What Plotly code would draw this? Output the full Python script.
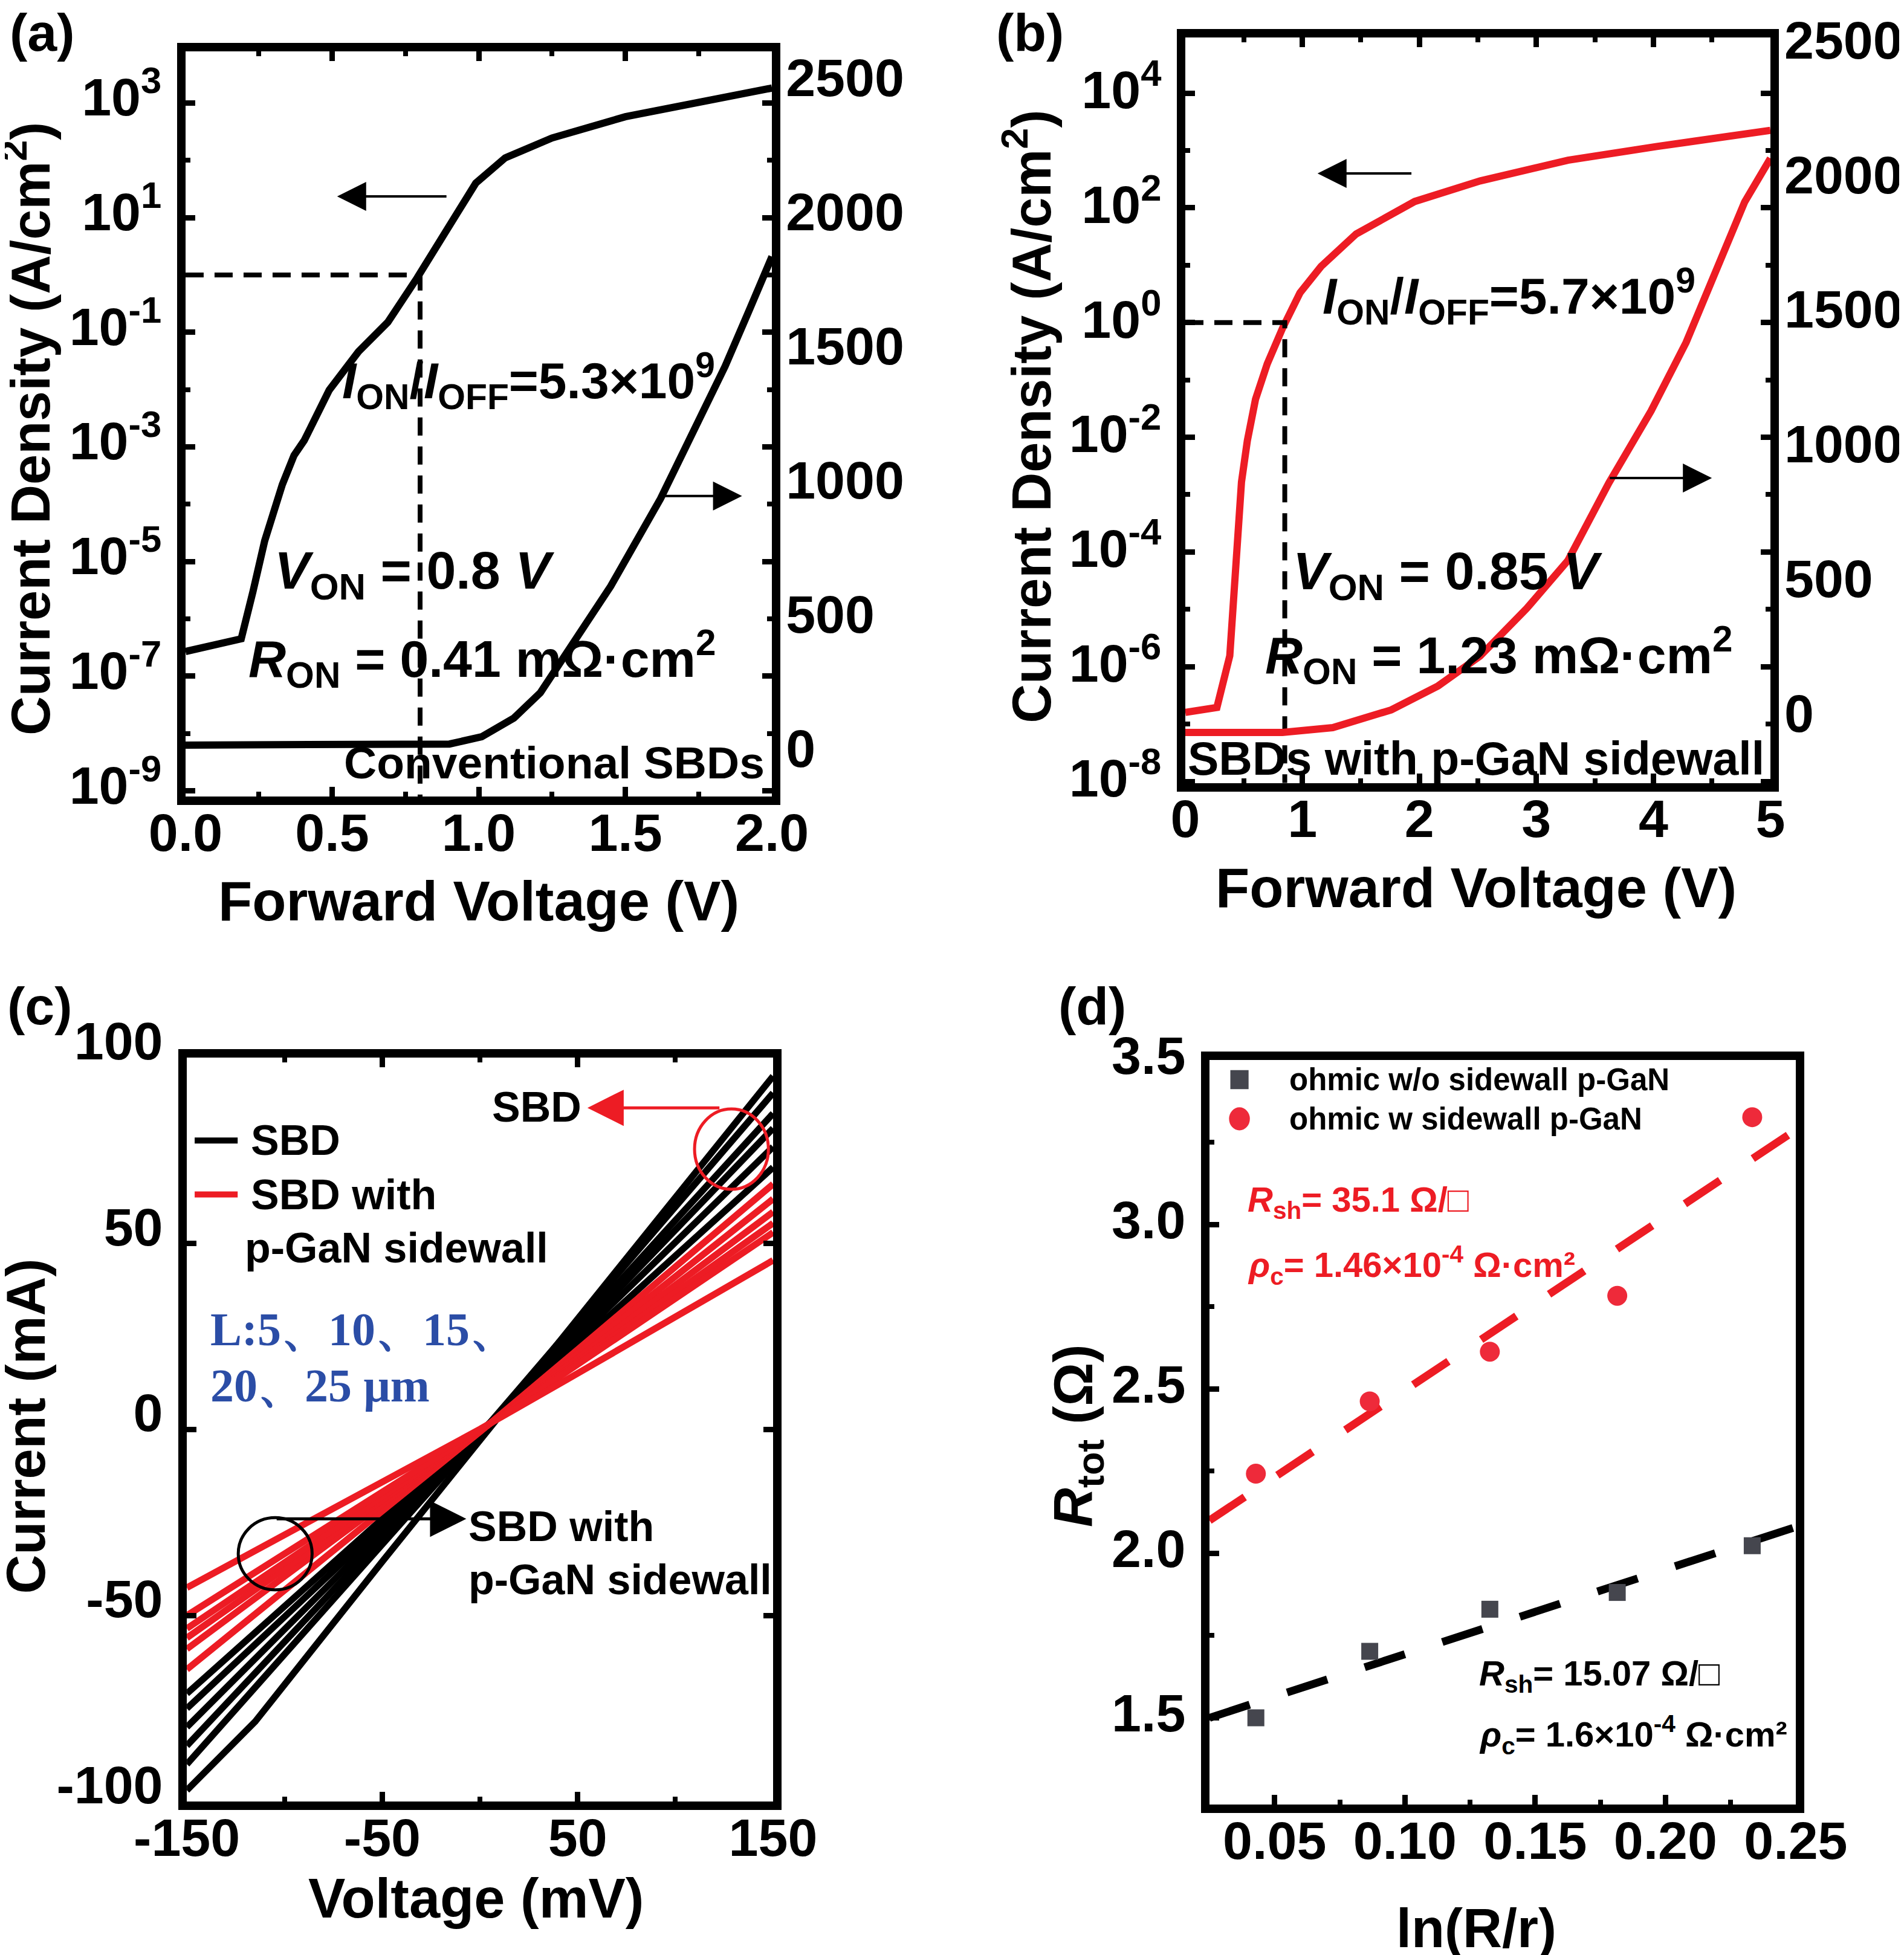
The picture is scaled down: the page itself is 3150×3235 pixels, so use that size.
import plotly.graph_objects as go

FONT = "Liberation Sans, Arial, sans-serif"
SERIF = "Liberation Serif, Times New Roman, serif"
RED = "#ED1C24"
W, H = 3150, 3235

# ---- panel (a): conventional SBDs ----
v_a_log = [0.00, 0.19, 0.23, 0.27, 0.33, 0.37, 0.405, 0.49, 0.59, 0.69, 0.79, 0.90, 0.99, 1.09, 1.25, 1.50, 1.75, 2.00]
j_a = [2.7e-7, 4.5e-7, 3.0e-6, 2.3e-5, 2.2e-4, 7.1e-4, 1.3e-3, 9.8e-3, 4.6e-2, 0.15, 0.89, 6.8, 40, 110, 245, 575, 1050, 1820]
v_a_lin = [0.0, 0.73, 0.90, 1.01, 1.12, 1.21, 1.32, 1.45, 1.62, 1.75, 1.84, 1.92, 2.0]
i_a_lin = [30, 30, 34, 61, 131, 225, 403, 622, 948, 1236, 1441, 1644, 1850]
von_a = 0.8

# ---- panel (b): SBDs with p-GaN sidewall ----
v_b_log = [0.0, 0.27, 0.38, 0.41, 0.44, 0.48, 0.53, 0.60, 0.70, 0.83, 0.98, 1.16, 1.46, 1.96, 2.52, 3.27, 4.03, 5.0]
j_b = [1.6e-7, 1.95e-7, 1.55e-6, 1.45e-5, 1.55e-4, 1.66e-3, 8.7e-3, 4.6e-2, 0.19, 0.79, 3.3, 9.5, 35, 129, 295, 676, 1175, 2240]
v_b_lin = [0.0, 0.83, 1.26, 1.76, 2.16, 2.52, 2.92, 3.27, 3.62, 3.98, 4.28, 4.58, 4.78, 5.0]
i_b_lin = [-72, -72, -54, 12, 101, 212, 390, 567, 855, 1122, 1377, 1698, 1898, 2060]
von_b = 0.85
j_ref = 1.0

# ---- panel (c): TLM I-V ----
v_c = [-150, -115, -50, 0, 50, 100, 150]
sbd_lines = [
    [-97, -78.5, -35.5, -2.7, 30.0, 62.5, 95.0],
    [-90, -69.3, -30.8, -1.3, 29.3, 59.9, 90.5],
    [-85, -65.4, -29.1, -1.2, 27.5, 56.3, 85.0],
    [-80, -61.6, -27.4, -1.1, 26.3, 53.7, 81.0],
    [-75, -57.7, -25.6, -1.0, 24.7, 50.4, 76.0],
    [-71, -54.6, -24.2, -0.9, 22.9, 46.7, 70.5],
]
pgan_lines = [
    [-64.5, -49.6, -21.9, -0.6, 21.5, 43.8, 66.0],
    [-59.0, -45.3, -19.9, -0.5, 20.3, 41.1, 62.0],
    [-56.0, -43.0, -18.9, -0.4, 19.2, 38.8, 58.5],
    [-53.5, -41.1, -18.0, -0.3, 18.2, 36.8, 55.5],
    [-50.0, -38.4, -16.8, -0.2, 17.5, 35.2, 53.0],
    [-42.5, -32.6, -14.1, 0.1, 15.1, 30.3, 45.5],
]

# ---- panel (d): CTLM ----
ln_rr = [0.0428, 0.0865, 0.1326, 0.1815, 0.2333]
r_wo = [1.500, 1.702, 1.830, 1.881, 2.023]
r_w = [2.242, 2.462, 2.613, 2.783, 3.326]
fit_x = [0.025, 0.25]
fit_wo = [1.500, 2.080]
fit_w = [2.100, 3.287]


def frame(**kw):
    ax = dict(showline=True, linewidth=14, linecolor="black", mirror="ticks", automargin=False,
              ticks="inside", ticklen=16, tickwidth=9, tickcolor="black",
              showgrid=False, zeroline=False, ticklabelstandoff=8,
              tickfont=dict(family=FONT, size=88, color="black", weight="bold"))
    ax.update(kw)
    return ax


def right_axis(**kw):
    ax = dict(side="right", showgrid=False, zeroline=False, showline=False, ticks="", automargin=False,
              ticklabelstandoff=22, ticklabelshift=-8, tickvals=[0, 500, 1000, 1500, 2000, 2500],
              tickfont=dict(family=FONT, size=88, color="black", weight="bold"))
    ax.update(kw)
    return ax


def minor(vals):
    return dict(tickvals=vals, ticks="inside", ticklen=8, tickwidth=8, tickcolor="black")


def sup(n):
    return f"10<sup>{n}</sup>"


fig = go.Figure()

# (a)
fig.add_trace(go.Scatter(x=v_a_log, y=j_a, mode="lines", line=dict(color="black", width=12),
                         xaxis="x", yaxis="y", showlegend=False))
fig.add_trace(go.Scatter(x=v_a_lin, y=i_a_lin, mode="lines", line=dict(color="black", width=12),
                         xaxis="x", yaxis="y2", showlegend=False))
fig.add_trace(go.Scatter(x=[0, von_a, von_a], y=[j_ref, j_ref, 10 ** -9.1], mode="lines",
                         line=dict(color="black", width=8, dash="30px,18px"),
                         xaxis="x", yaxis="y", showlegend=False))

# (b)
fig.add_trace(go.Scatter(x=v_b_log, y=j_b, mode="lines", line=dict(color=RED, width=12),
                         xaxis="x2", yaxis="y3", showlegend=False))
fig.add_trace(go.Scatter(x=v_b_lin, y=i_b_lin, mode="lines", line=dict(color=RED, width=12),
                         xaxis="x2", yaxis="y4", showlegend=False))
fig.add_trace(go.Scatter(x=[0, von_b, von_b], y=[j_ref, j_ref, 10 ** -8.03], mode="lines",
                         line=dict(color="black", width=8, dash="30px,18px"),
                         xaxis="x2", yaxis="y3", showlegend=False))

# (c)
for ys in sbd_lines:
    fig.add_trace(go.Scatter(x=v_c, y=ys, mode="lines", line=dict(color="black", width=11),
                             xaxis="x3", yaxis="y5", showlegend=False))
for ys in pgan_lines:
    fig.add_trace(go.Scatter(x=v_c, y=ys, mode="lines", line=dict(color=RED, width=11),
                             xaxis="x3", yaxis="y5", showlegend=False))

# (d)
fig.add_trace(go.Scatter(x=fit_x, y=fit_wo, mode="lines", line=dict(color="black", width=13, dash="70px,65px"),
                         xaxis="x4", yaxis="y6", showlegend=False))
fig.add_trace(go.Scatter(x=fit_x, y=fit_w, mode="lines", line=dict(color=RED, width=13, dash="70px,65px"),
                         xaxis="x4", yaxis="y6", showlegend=False))
fig.add_trace(go.Scatter(x=ln_rr, y=r_wo, mode="markers", marker=dict(symbol="square", size=28, color="#45464E"),
                         xaxis="x4", yaxis="y6", showlegend=False))
fig.add_trace(go.Scatter(x=ln_rr, y=r_w, mode="markers", marker=dict(symbol="circle", size=33, color="#EE2A3A"),
                         xaxis="x4", yaxis="y6", showlegend=False))

fig.update_layout(
    template="none",
    width=W, height=H, margin=dict(l=0, r=0, t=0, b=0, autoexpand=False),
    paper_bgcolor="white", plot_bgcolor="white",
    font=dict(family=FONT, color="black", weight="bold"),
    xaxis=frame(domain=[0.0949, 0.4029], anchor="y", range=[0, 2], ticklabelstandoff=-30,
                tickvals=[0, 0.5, 1, 1.5, 2], ticktext=["0.0", "0.5", "1.0", "1.5", "2.0"],
                minor=minor([0.25, 0.75, 1.25, 1.75])),
    yaxis=frame(domain=[0.5950, 0.9762], anchor="x", type="log", range=[-9.1, 3.9], ticklabelshift=-10,
                tickvals=[1e3, 1e1, 1e-1, 1e-3, 1e-5, 1e-7, 1e-9],
                ticktext=[sup(3), sup(1), sup(-1), sup(-3), sup(-5), sup(-7), sup(-9)],
                minor=minor([1e2, 1e0, 1e-2, 1e-4, 1e-6, 1e-8])),
    yaxis2=right_axis(overlaying="y", anchor="x", range=[-162, 2615]),
    xaxis2=frame(domain=[0.6200, 0.9273], anchor="y3", range=[0, 5], ticklabelstandoff=-30,
                 tickvals=[0, 1, 2, 3, 4, 5], minor=minor([0.5, 1.5, 2.5, 3.5, 4.5])),
    yaxis3=frame(domain=[0.6019, 0.9833], anchor="x2", type="log", range=[-8.03, 4.97], ticklabelshift=-6,
                 tickvals=[1e4, 1e2, 1e0, 1e-2, 1e-4, 1e-6, 1e-8],
                 ticktext=[sup(4), sup(2), sup(0), sup(-2), sup(-4), sup(-6), sup(-8)],
                 minor=minor([1e3, 1e1, 1e-1, 1e-3, 1e-5, 1e-7])),
    yaxis4=right_axis(overlaying="y3", anchor="x2", range=[-260, 2509], ticklabelshift=0),
    xaxis3=frame(domain=[0.0956, 0.4035], anchor="y5", range=[-150, 150], ticklabelstandoff=-30,
                 tickvals=[-150, -50, 50, 150], ticktext=["-150", "-50", "50", "150"],
                 minor=minor([-100, 0, 100])),
    yaxis5=frame(domain=[0.0810, 0.4615], anchor="x3", range=[-100, 100], ticklabelshift=-28,
                 tickvals=[-100, -50, 0, 50, 100], ticktext=["-100", "-50", "0", "50", "100"]),
    xaxis4=frame(domain=[0.6327, 0.9406], anchor="y6", range=[0.025, 0.25], mirror=True,
                 ticklabelstandoff=-30,
                 tickvals=[0.05, 0.10, 0.15, 0.20, 0.25],
                 ticktext=["0.05", "0.10", "0.15", "0.20", "0.25"],
                 minor=minor([0.075, 0.125, 0.175, 0.225])),
    yaxis6=frame(domain=[0.0794, 0.4603], anchor="x4", range=[1.236, 3.5], mirror=True, ticklabelshift=-8,
                 tickvals=[1.5, 2.0, 2.5, 3.0, 3.5], ticktext=["1.5", "2.0", "2.5", "3.0", "3.5"],
                 minor=minor([1.75, 2.25, 2.75, 3.25])),
)

ann = []


def txt(text, x, y, xref="paper", yref="paper", size=88, xanchor="center", color="black",
        family=FONT, angle=0, yanchor="middle"):
    ann.append(dict(text=text, x=x, y=y, xref=xref, yref=yref, showarrow=False, xanchor=xanchor,
                    yanchor=yanchor, textangle=angle,
                    font=dict(family=family, size=size, color=color, weight="bold")))


def arrow(x, y, ax, ay, xref, yref, color="black", width=4, size=2.4):
    ann.append(dict(text="", x=x, y=y, ax=ax, ay=ay, xref=xref, yref=yref, axref=xref, ayref=yref,
                    showarrow=True, arrowhead=2, arrowsize=size, arrowwidth=width, arrowcolor=color))


# panel letters
txt("(a)", 0.0197, 0.9860)
txt("(b)", 0.5384, 0.9860)
txt("(c)", 0.0184, 0.4878)
txt("(d)", 0.5711, 0.4878)

# axis titles
txt("Current Density (A/cm<sup>2</sup>)", 0.0114, 0.7833, angle=-90, size=90)
txt("Forward Voltage (V)", 0.2489, 0.5417, size=92)
txt("Current Density (A/cm<sup>2</sup>)", 0.5371, 0.7895, angle=-90, size=90)
txt("Forward Voltage (V)", 0.7727, 0.5484, size=92)
txt("Current (mA)", 0.0110, 0.2730, angle=-90, size=90)
txt("Voltage (mV)", 0.2476, 0.0315, size=92)
txt("<i>R</i><sub>tot</sub> (Ω)", 0.5632, 0.2680, angle=-90, size=90)
txt("ln(R/r)", 0.7727, 0.0160, size=90)

# (a) labels
txt("<i>I</i><sub>ON</sub>/<i>I</i><sub>OFF</sub>=5.3×10<sup>9</sup>", 0.53, -1.85, "x", "y", 84, "left")
txt("<i>V</i><sub>ON</sub> = 0.8 <i>V</i>", 0.30, -5.21, "x", "y", 88, "left")
txt("<i>R</i><sub>ON</sub> = 0.41 mΩ·cm<sup>2</sup>", 0.21, -6.7, "x", "y", 86, "left")
txt("Conventional SBDs", 1.98, -8.51, "x", "y", 75, "right")
arrow(0.517, 1.37, 0.893, 1.37, "x", "y")
arrow(1.898, 958, 1.626, 958, "x", "y2")

# (b) labels
txt("<i>I</i><sub>ON</sub>/<i>I</i><sub>OFF</sub>=5.7×10<sup>9</sup>", 1.16, 0.46, "x2", "y3", 84, "left")
txt("<i>V</i><sub>ON</sub> = 0.85 <i>V</i>", 0.91, -4.39, "x2", "y3", 88, "left")
txt("<i>R</i><sub>ON</sub> = 1.23 mΩ·cm<sup>2</sup>", 0.67, -5.80, "x2", "y3", 86, "left")
txt("SBDs with p-GaN sidewall", 4.96, -7.6, "x2", "y3", 77, "right")
arrow(1.13, 2.6, 1.94, 2.6, "x2", "y3")
arrow(4.50, 873, 3.62, 873, "x2", "y4")

# (c) labels, legend, callouts
txt("SBD", -118, 77.7, "x3", "y5", 70, "left")
txt("SBD with", -118, 63.2, "x3", "y5", 70, "left")
txt("p-GaN sidewall", -121, 48.9, "x3", "y5", 70, "left")
txt("L:5、10、15、", -138.5, 27.0, "x3", "y5", 78, "left", "#2B4DA6", SERIF)
txt("20、25 μm", -138.5, 11.8, "x3", "y5", 78, "left", "#2B4DA6", SERIF)
txt("SBD", 29, 86.7, "x3", "y5", 70)
txt("SBD with", -6.6, -26.0, "x3", "y5", 70, "left")
txt("p-GaN sidewall", -6.6, -40.3, "x3", "y5", 70, "left")
arrow(55, 86.5, 123, 86.5, "x3", "y5", RED, 5)
arrow(-7, -24.0, -104.5, -24.0, "x3", "y5", "black", 5)

# (d) legend and fit labels
txt("ohmic w/o sidewall p-GaN", 0.0552, 3.440, "x4", "y6", 51, "left")
txt("ohmic w sidewall p-GaN", 0.0552, 3.321, "x4", "y6", 51, "left")
txt("<i>R</i><sub>sh</sub>= 35.1 Ω/□", 0.0392, 3.069, "x4", "y6", 58, "left", RED)
txt("<i>ρ</i><sub>c</sub>= 1.46×10<sup>-4</sup> Ω·cm²", 0.0392, 2.876, "x4", "y6", 58, "left", RED)
txt("<i>R</i><sub>sh</sub>= 15.07 Ω/□", 0.128, 1.628, "x4", "y6", 58, "left")
txt("<i>ρ</i><sub>c</sub>= 1.6×10<sup>-4</sup> Ω·cm²", 0.128, 1.449, "x4", "y6", 58, "left")

fig.update_layout(annotations=ann)

shapes = [
    # legend (c) line samples
    dict(type="line", xref="x3", yref="y5", x0=-146, x1=-124, y0=77.7, y1=77.7, line=dict(color="black", width=10)),
    dict(type="line", xref="x3", yref="y5", x0=-146, x1=-124, y0=63.2, y1=63.2, line=dict(color=RED, width=10)),
    # callout circles (c)
    dict(type="circle", xref="x3", yref="y5", x0=109.8, x1=147.6, y0=64.6, y1=86.2, line=dict(color=RED, width=5)),
    dict(type="circle", xref="x3", yref="y5", x0=-123.7, x1=-85.9, y0=-43.1, y1=-23.7, line=dict(color="black", width=5)),
    # legend (d) symbols
    dict(type="rect", xref="x4", yref="y6", x0=0.0330, x1=0.0400, y0=3.411, y1=3.469, fillcolor="#45464E", line=dict(width=0)),
    dict(type="circle", xref="x4", yref="y6", x0=0.0325, x1=0.0405, y0=3.286, y1=3.356, fillcolor="#EE2A3A", line=dict(width=0)),
]
fig.update_layout(shapes=shapes)

fig.write_html("out.html")
